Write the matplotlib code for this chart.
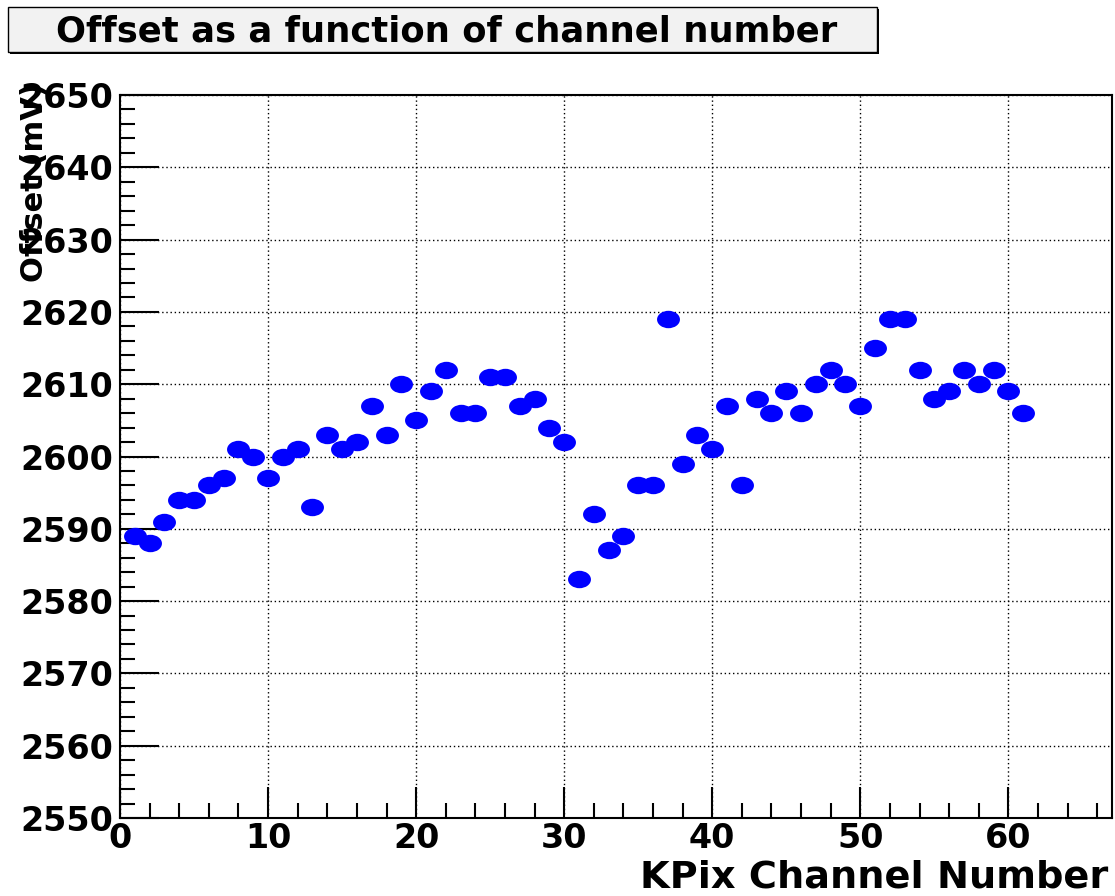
import matplotlib.pyplot as plt
from matplotlib.path import Path
from matplotlib.patches import Rectangle
from matplotlib.transforms import Affine2D

# Offset per KPix channel
channels = list(range(1, 62))
offset_mv = [2589, 2588, 2591, 2594, 2594, 2596, 2597, 2601, 2600, 2597,
             2600, 2601, 2593, 2603, 2601, 2602, 2607, 2603, 2610, 2605,
             2609, 2612, 2606, 2606, 2611, 2611, 2607, 2608, 2604, 2602,
             2583, 2592, 2587, 2589, 2596, 2596, 2619, 2599, 2603, 2601,
             2607, 2596, 2608, 2606, 2609, 2606, 2610, 2612, 2610, 2607,
             2615, 2619, 2619, 2612, 2608, 2609, 2612, 2610, 2612, 2609,
             2606]

plt.rcParams["font.family"] = ["DejaVu Sans"]
plt.rcParams["font.weight"] = "bold"

W, H = 1115, 896
fig = plt.figure(figsize=(W / 100, H / 100), dpi=100)
ax = fig.add_axes([120 / W, 1 - 818 / H, 992 / W, 723 / H])

# flattened ellipse marker like the ROOT output
ellipse = Path.unit_circle().transformed(Affine2D().scale(1.0, 0.76))
ax.plot(channels, offset_mv, linestyle="none", marker=ellipse,
        color="#0000ff", markersize=16.5, markeredgewidth=0)

ax.set_xlim(0, 67)
ax.set_ylim(2550, 2650)
ax.set_xticks(range(0, 61, 10))
ax.set_xticks(range(0, 67, 2), minor=True)
ax.set_yticks(range(2550, 2651, 10))
ax.set_yticks(range(2550, 2651, 2), minor=True)

ax.grid(True, which="major", color="black", linestyle=(0, (1, 2)), linewidth=1)
ax.tick_params(which="major", direction="in", length=22, width=1.5,
               labelsize=24)
ax.tick_params(which="minor", direction="in", length=11, width=1.5)
ax.tick_params(axis="x", which="major", pad=3)
ax.tick_params(axis="y", which="major", length=28, pad=5)
for sp in ax.spines.values():
    sp.set_linewidth(1.5)

fig.text(1108 / W, 1 - 877 / H, "KPix Channel Number", ha="right",
         va="center", fontsize=27.5, fontweight="bold")
fig.text(35 / W, 1 - 82 / H, "Offset (mV)", ha="center", va="top",
         rotation=90, fontsize=22, fontweight="bold")

# title box with shadow
fig.patches.append(Rectangle((10 / W, 1 - 54 / H), 869 / W, 45 / H,
                             transform=fig.transFigure, facecolor="black",
                             edgecolor="none"))
fig.patches.append(Rectangle((8 / W, 1 - 52 / H), 869 / W, 45 / H,
                             transform=fig.transFigure, facecolor="#f2f2f2",
                             edgecolor="black", linewidth=1))
fig.text(447 / W, 1 - 31 / H, "Offset as a function of channel number",
         ha="center", va="center", fontsize=25.5, fontweight="bold")

fig.savefig("out.png", dpi=100)
